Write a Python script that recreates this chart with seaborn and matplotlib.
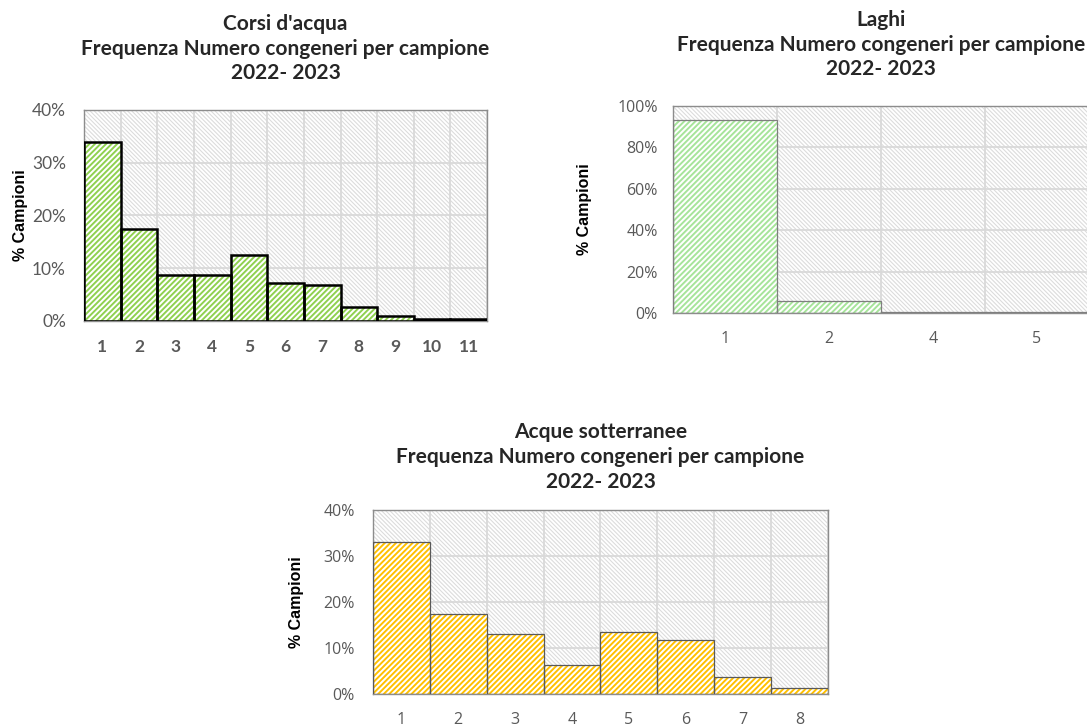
import matplotlib
matplotlib.use("Agg")
import numpy as np
import matplotlib.pyplot as plt
import matplotlib.patches as mpatches
from matplotlib.ticker import PercentFormatter, MultipleLocator
import seaborn as sns

# --- data ---
corsi_cat = ["1", "2", "3", "4", "5", "6", "7", "8", "9", "10", "11"]
corsi_val = [33.9, 17.5, 8.7, 8.7, 12.5, 7.2, 6.8, 2.6, 1.0, 0.3, 0.3]

laghi_cat = ["1", "2", "4", "5"]
laghi_val = [93.1, 5.8, 0.6, 0.6]

sott_cat = ["1", "2", "3", "4", "5", "6", "7", "8"]
sott_val = [33.1, 17.3, 13.0, 6.4, 13.4, 11.7, 3.8, 1.2]

title_corsi = "Corsi d'acqua\nFrequenza Numero congeneri per campione\n2022- 2023"
title_laghi = "Laghi\nFrequenza Numero congeneri per campione\n2022- 2023"
title_sott = "Acque sotterranee\nFrequenza Numero congeneri per campione\n2022- 2023"

sns.set_style("white")
plt.rcParams["hatch.linewidth"] = 1.4

TITLE_FONT = ["Lato", "DejaVu Sans"]
LABEL_FONT = ["Liberation Sans", "DejaVu Sans"]
PLAIN_FONT = ["Open Sans", "DejaVu Sans"]


def draw_panel(ax, cats, vals, ymax, ystep, hatch_color, edge_color, edge_lw,
               title, pad, xfont, xweight, yfont, tick_size, ypad, ylabelpad):
    ax.set_facecolor("white")
    # hatched background of the plot area
    bg = mpatches.Rectangle((0, 0), 1, 1, transform=ax.transAxes,
                            facecolor="white", edgecolor="#dcdcdc",
                            hatch="\\" * 8, lw=0, zorder=0)
    if hasattr(bg, "set_hatch_linewidth"):
        bg.set_hatch_linewidth(0.8)
    ax.add_patch(bg)

    # hatched fill
    n0 = len(ax.patches)
    sns.barplot(x=cats, y=vals, ax=ax, width=1.0, color="white")
    for p in ax.patches[n0:]:
        p.set_facecolor("white")
        p.set_edgecolor(hatch_color)
        p.set_hatch("//////")
        p.set_linewidth(0)
        p.set_zorder(2)
    # outline
    n1 = len(ax.patches)
    sns.barplot(x=cats, y=vals, ax=ax, width=1.0, color="white")
    for p in ax.patches[n1:]:
        p.set_facecolor("none")
        p.set_edgecolor(edge_color)
        p.set_linewidth(edge_lw)
        p.set_zorder(3)

    n = len(cats)
    ax.set_xlim(-0.5, n - 0.5)
    ax.set_ylim(0, ymax)
    ax.yaxis.set_major_locator(MultipleLocator(ystep))
    ax.yaxis.set_major_formatter(PercentFormatter(xmax=100, decimals=0))
    ax.set_xticks(np.arange(-0.5, n, 1), minor=True)
    ax.set_axisbelow(True)
    ax.grid(True, which="major", axis="y", color="#d9d9d9", lw=1.3, zorder=1)
    ax.grid(True, which="minor", axis="x", color="#d9d9d9", lw=1.3, zorder=1)
    ax.tick_params(which="both", length=0)
    ax.tick_params(axis="x", pad=13)
    ax.tick_params(axis="y", pad=ypad)
    for lab in ax.get_xticklabels():
        lab.set_family(xfont)
        lab.set_fontweight(xweight)
        lab.set_fontsize(tick_size)
        lab.set_color("#595959")
    for lab in ax.get_yticklabels():
        lab.set_family(yfont)
        lab.set_fontsize(tick_size)
        lab.set_color("#595959")
    for s in ax.spines.values():
        s.set_visible(True)
        s.set_color("#8c8c8c")
        s.set_linewidth(1.0)
    ax.set_xlabel("")
    ax.set_ylabel("% Campioni", family=LABEL_FONT, fontweight="bold",
                  fontsize=11.5, color="black", labelpad=ylabelpad)
    ax.set_title(title, family=TITLE_FONT, fontweight="bold", fontsize=15,
                 linespacing=1.3, pad=pad)


fig = plt.figure(figsize=(10.87, 7.26), dpi=100)
ax1 = fig.add_axes([0.0773, 0.5579, 0.3708, 0.2906])
ax2 = fig.add_axes([0.6191, 0.5689, 0.3827, 0.2851])
ax3 = fig.add_axes([0.3431, 0.0441, 0.4186, 0.2534])

draw_panel(ax1, corsi_cat, corsi_val, 40, 10, "#8fd14f", "black", 1.8,
           title_corsi, 22, TITLE_FONT, "bold", ["Lato", "DejaVu Sans"], 12.5, 13, 3)
draw_panel(ax2, laghi_cat, laghi_val, 100, 20, "#a6e49a", "#7f7f7f", 0.9,
           title_laghi, 22, PLAIN_FONT, "normal", PLAIN_FONT, 11.5, 11, 18)
draw_panel(ax3, sott_cat, sott_val, 40, 10, "#ffc000", "#595959", 0.9,
           title_sott, 16, PLAIN_FONT, "normal", PLAIN_FONT, 11.5, 13, 14)

fig.savefig("out.png", dpi=100)
